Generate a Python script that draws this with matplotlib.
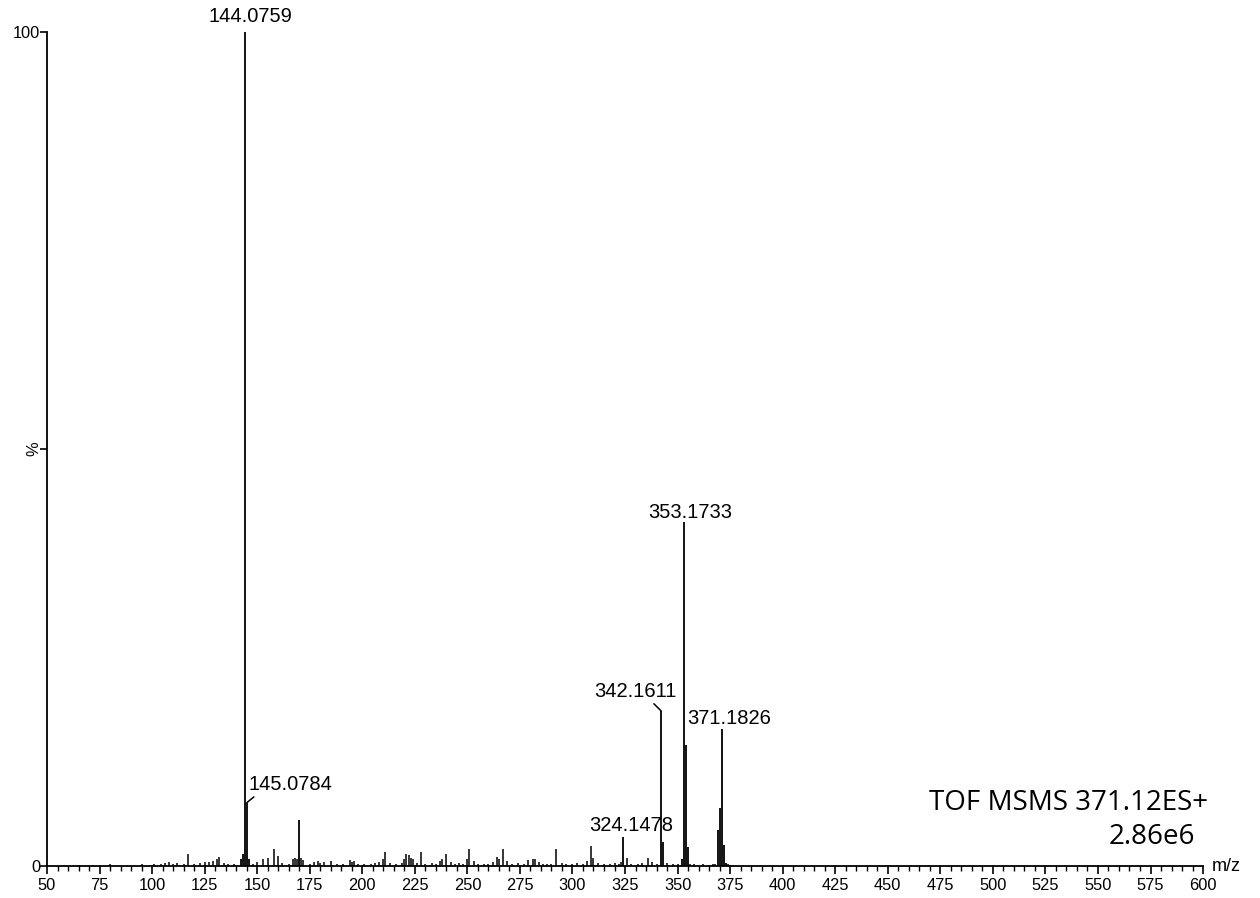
import matplotlib.pyplot as plt
from matplotlib.ticker import MultipleLocator

plt.rcParams['font.family'] = ['Liberation Sans', 'DejaVu Sans']

# main fragment ions: m/z and intensity (% of base peak)
peak_mz = [142.07, 143.07, 144.0759, 145.0784, 146.08, 170.06, 324.1478, 342.1611, 343.16,
           352.17, 353.1733, 354.18, 355.18, 369.17, 370.18, 371.1826, 372.19, 373.19]
peak_pct = [0.8, 1.5, 100, 7.6, 0.9, 5.5, 3.5, 18.6, 2.9,
            0.8, 41.3, 14.5, 2.3, 4.3, 7.0, 16.4, 2.5, 0.4]

# small background peaks
noise_mz = [58, 65, 72, 80, 88, 95, 101, 104, 106, 108, 110, 112, 115, 117, 120, 123, 125, 127,
            129, 131, 132, 134, 136, 139, 148, 150, 153, 155, 158, 160, 162, 165, 167, 168, 169,
            171, 172, 175, 177, 179, 180, 182, 185, 188, 191, 194, 195, 196, 198, 201, 204, 206,
            208, 210, 211, 213, 216, 219, 220, 221, 222, 223, 224, 226, 228, 230, 233, 235, 237,
            238, 240, 242, 244, 246, 248, 250, 251, 253, 255, 258, 260, 262, 264, 265, 267, 269,
            271, 274, 277, 279, 281, 282, 284, 286, 288, 290, 292, 295, 297, 300, 302, 305, 307,
            309, 310, 312, 315, 318, 320, 322, 323, 326, 328, 331, 333, 336, 338, 340, 345, 348,
            350, 356, 358, 362, 365, 367, 368, 374, 376]
noise_pct = [0.1, 0.1, 0.1, 0.3, 0.1, 0.3, 0.2, 0.3, 0.4, 0.5, 0.3, 0.4, 0.3, 1.4, 0.3, 0.4, 0.5, 0.5,
             0.6, 0.8, 1.1, 0.4, 0.3, 0.3, 0.3, 0.5, 0.9, 1.0, 2.1, 1.2, 0.4, 0.3, 0.8, 1.0, 0.9,
             1.0, 0.7, 0.3, 0.5, 0.6, 0.4, 0.5, 0.6, 0.3, 0.2, 0.7, 0.5, 0.6, 0.3, 0.2, 0.3, 0.4,
             0.5, 0.8, 1.7, 0.4, 0.2, 0.4, 0.9, 1.4, 1.3, 1.0, 0.8, 0.4, 1.7, 0.3, 0.4, 0.3, 0.6,
             0.9, 1.5, 0.5, 0.3, 0.4, 0.3, 0.8, 2.1, 0.6, 0.3, 0.2, 0.3, 0.5, 1.1, 0.8, 2.1, 0.6,
             0.3, 0.4, 0.3, 0.7, 0.9, 0.8, 0.5, 0.3, 0.2, 0.3, 2.0, 0.4, 0.3, 0.2, 0.4, 0.3, 0.6,
             2.4, 1.0, 0.4, 0.3, 0.2, 0.4, 0.3, 0.5, 1.0, 0.3, 0.2, 0.4, 1.0, 0.5, 0.2, 0.4, 0.3,
             0.3, 0.3, 0.2, 0.2, 0.1, 0.2, 0.2, 0.2, 0.1]

# peaks that carry an accurate-mass label
label_mz = [144.0759, 145.0784, 324.1478, 342.1611, 353.1733, 371.1826]

fig = plt.figure(figsize=(12.6, 8.98), dpi=100)
ax = fig.add_axes([0.0373, 0.0356, 0.9175, 0.9287])

ax.vlines(noise_mz, 0, noise_pct, color='black', lw=1.1)
ax.vlines(peak_mz, 0, peak_pct, color='black', lw=1.3)

ax.set_xlim(50, 600)
ax.set_ylim(0, 100)
for s in ['top', 'right']:
    ax.spines[s].set_visible(False)
for s in ['left', 'bottom']:
    ax.spines[s].set_linewidth(1.3)

ax.xaxis.set_major_locator(MultipleLocator(25))
ax.xaxis.set_minor_locator(MultipleLocator(5))
ax.tick_params(axis='x', which='major', direction='out', length=6, width=1.2, labelsize=11.8, pad=2.5)
ax.tick_params(axis='x', which='minor', direction='out', length=3.5, width=1.0)
ax.set_yticks([0, 50, 100])
ax.set_yticklabels(['0', '', '100'])
ax.tick_params(axis='y', direction='out', length=5, width=1.2, labelsize=11.8, pad=0)
ax.text(-0.005, 50, '%', transform=ax.get_yaxis_transform(), rotation=90,
        ha='right', va='center', fontsize=11.8)

# label offsets (points) from each peak top; decimal point sits over the peak
offsets = {144.0759: (4.2, 11.5, None),
           145.0784: (1.5, 13, (0.1, 0.0)),
           324.1478: (6, 8, None),
           342.1611: (-18.5, 14, (0.69, 0.0)),
           353.1733: (4.2, 6.5, None),
           371.1826: (5, 7.5, None)}
for mz in label_mz:
    h = peak_pct[peak_mz.index(mz)]
    dx, dy, rel = offsets[mz]
    ha = 'left' if mz == 145.0784 else 'center'
    arrow = None
    if rel is not None:
        arrow = dict(arrowstyle='-', color='black', lw=1.1, relpos=rel, shrinkA=0, shrinkB=0)
    ax.annotate(f"{mz:.4f}", xy=(mz, h), xytext=(dx, dy), textcoords='offset points',
                ha=ha, va='center', fontsize=14.5, arrowprops=arrow, annotation_clip=False)

ax.annotate('m/z', xy=(1, 0), xycoords='axes fraction', xytext=(6.5, 0),
            textcoords='offset points', ha='left', va='center', fontsize=13)

fig.text(0.9587, 0.1058, 'TOF MSMS 371.12ES+', ha='right', va='center',
         fontsize=20, family=['Open Sans', 'DejaVu Sans'])
fig.text(0.9484, 0.0677, '2.86e6', ha='right', va='center',
         fontsize=20, family=['Open Sans', 'DejaVu Sans'])

fig.savefig('out.png', dpi=100)
